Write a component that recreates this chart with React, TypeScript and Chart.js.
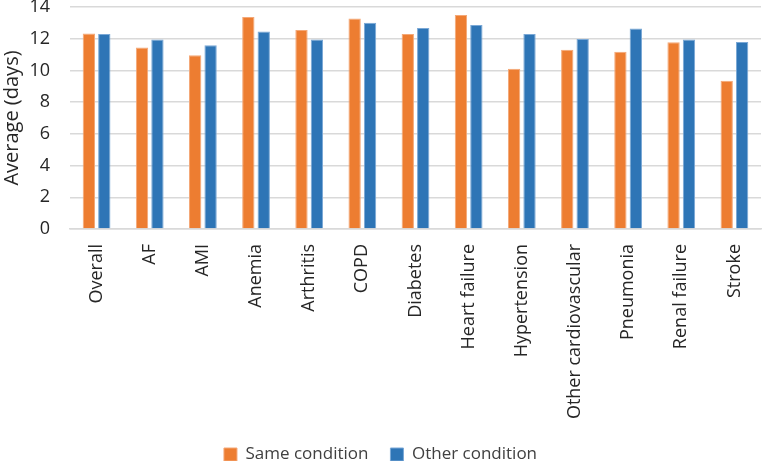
import React, { useEffect, useRef } from "react";
import { Chart, registerables } from "chart.js";

Chart.register(...registerables);

const categories = [
  "Overall",
  "AF",
  "AMI",
  "Anemia",
  "Arthritis",
  "COPD",
  "Diabetes",
  "Heart failure",
  "Hypertension",
  "Other cardiovascular",
  "Pneumonia",
  "Renal failure",
  "Stroke",
];

const sameCondition = [12.33, 11.45, 10.95, 13.37, 12.55, 13.28, 12.29, 13.49, 10.1, 11.3, 11.18, 11.77, 9.35];
const otherCondition = [12.3, 11.95, 11.58, 12.46, 11.95, 13.0, 12.67, 12.86, 12.29, 11.98, 12.65, 11.95, 11.79];

const yTicks = [0, 2, 4, 6, 8, 10, 12, 14];

export default function App() {
  const ref = useRef<HTMLCanvasElement | null>(null);

  useEffect(() => {
    if (!ref.current) return;
    const font = "'Open Sans', sans-serif";
    const chart = new Chart(ref.current, {
      type: "bar",
      data: {
        labels: categories,
        datasets: [
          {
            label: "Same condition",
            data: sameCondition,
            backgroundColor: "#ED7D31",
            borderColor: "#F4A877",
            borderWidth: 1,
          },
          {
            label: "Other condition",
            data: otherCondition,
            backgroundColor: "#2E75B6",
            borderColor: "#7AA8D6",
            borderWidth: 1,
          },
        ],
      },
      options: {
        animation: false,
        responsive: false,
        maintainAspectRatio: false,
        layout: { padding: { left: 0, right: 1, top: 7, bottom: -12 } },
        datasets: {
          bar: { categoryPercentage: 0.58, barPercentage: 0.8 },
        },
        plugins: {
          legend: {
            position: "bottom",
            labels: {
              font: { family: font, size: 17 },
              color: "#404040",
              boxWidth: 13,
              boxHeight: 13,
              padding: 22,
            },
          },
          tooltip: { enabled: false },
        },
        scales: {
          x: {
            afterFit: (s: any) => {
              s.height = 195;
              s.paddingLeft = 0;
              s.paddingRight = 0;
            },
            grid: { display: false, drawTicks: false },
            border: { color: "#D9D9D9", width: 1.5 },
            ticks: {
              font: { family: font, size: 18 },
              color: "#262626",
              maxRotation: 90,
              minRotation: 90,
              padding: 15,
              autoSkip: false,
            },
          },
          y: {
            min: 0,
            max: 14,
            afterBuildTicks: (axis: any) => {
              axis.ticks = yTicks.map((v) => ({ value: v }));
            },
            afterFit: (s: any) => {
              s.width = 70;
              s.paddingTop = 0;
              s.paddingBottom = 0;
            },
            grid: { color: "#D9D9D9", lineWidth: 1.5, drawTicks: false },
            border: { display: false },
            ticks: {
              font: { family: font, size: 18 },
              color: "#262626",
              padding: 20,
            },
            title: {
              display: true,
              text: "Average (days)",
              font: { family: font, size: 20 },
              color: "#262626",
              padding: { top: 0, bottom: 4 },
            },
          },
        },
      },
    });
    return () => chart.destroy();
  }, []);

  return (
    <div style={{ position: "fixed", left: 0, top: 0, width: 762, height: 461, background: "#fff" }}>
      <canvas ref={ref} width={762} height={461} style={{ width: 762, height: 461 }} />
    </div>
  );
}
